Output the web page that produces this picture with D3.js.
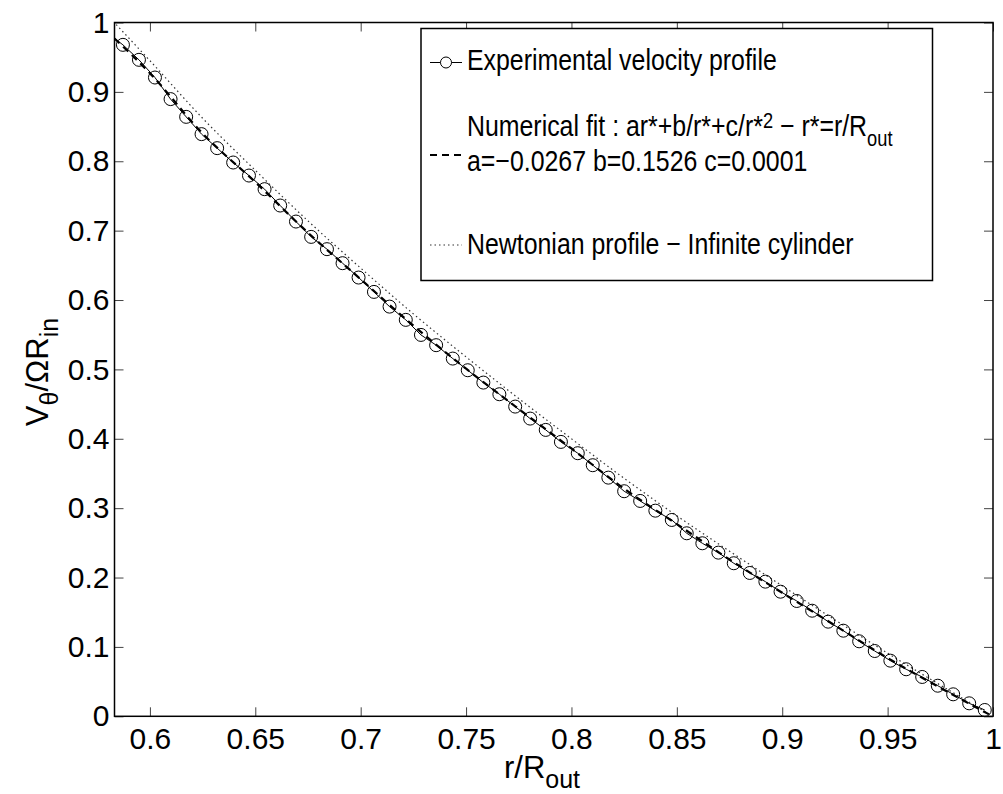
<!DOCTYPE html>
<html>
<head>
<meta charset="utf-8">
<script src="https://cdn.jsdelivr.net/npm/d3@7"></script>
<style>
  html, body { margin: 0; padding: 0; background: #fff; }
  svg { display: block; }
  text { font-family: "Liberation Sans", Arial, Helvetica, sans-serif; fill: #000; }
</style>
</head>
<body>
<script>
// ---------- data ----------
const expR = [0.5872,0.5948,0.6024,0.6098,0.6172,0.6245,0.6319,0.6395,0.6470,0.6544,
              0.6618,0.6693,0.6765,0.6840,0.6914,0.6990,0.7063,0.7137,0.7214,0.7286,
              0.7358,0.7437,0.7508,0.7582,0.7658,0.7733,0.7804,0.7878,0.7950,0.8030,
              0.8101,0.8175,0.8250,0.8326,0.8398,0.8476,0.8547,0.8621,0.8697,0.8770,
              0.8846,0.8920,0.8992,0.9069,0.9142,0.9218,0.9290,0.9365,0.9439,0.9513,
              0.9588,0.9664,0.9738,0.9811,0.9887,0.9961];
const expV = [0.9678,0.9462,0.9207,0.8896,0.8640,0.8391,0.8189,0.7982,0.7794,0.7598,
              0.7362,0.7131,0.6910,0.6733,0.6531,0.6324,0.6117,0.5905,0.5714,0.5497,
              0.5349,0.5156,0.4988,0.4810,0.4642,0.4464,0.4291,0.4128,0.3955,0.3792,
              0.3619,0.3440,0.3244,0.3104,0.2964,0.2830,0.2638,0.2494,0.2359,0.2206,
              0.2066,0.1941,0.1796,0.1662,0.1522,0.1364,0.1234,0.1081,0.0941,0.0802,
              0.0678,0.0567,0.0441,0.0317,0.0187,0.0091];

const fitR = [0.5832,0.600,0.625,0.650,0.675,0.700,0.725,0.750,0.775,0.800,0.825,0.850,0.875,0.900,0.925,0.950,0.975,0.998];
const fitV = [0.977,0.927,0.840,0.770,0.697,0.630,0.563,0.501,0.443,0.386,0.328,0.277,0.226,0.178,0.131,0.084,0.041,0.003];

const newtR = [0.5840,0.600,0.625,0.650,0.675,0.700,0.725,0.750,0.775,0.800,0.825,0.850,0.875,0.900,0.925,0.950,0.975,1.000];
const newtV = [0.997,0.945,0.862,0.787,0.714,0.646,0.580,0.518,0.458,0.400,0.343,0.289,0.238,0.188,0.139,0.091,0.045,0.000];

const xTicks = [0.6,0.65,0.7,0.75,0.8,0.85,0.9,0.95,1];
const xTickLabels = ["0.6","0.65","0.7","0.75","0.8","0.85","0.9","0.95","1"];
const yTicks = [0,0.1,0.2,0.3,0.4,0.5,0.6,0.7,0.8,0.9,1];
const yTickLabels = ["0","0.1","0.2","0.3","0.4","0.5","0.6","0.7","0.8","0.9","1"];

// ---------- layout ----------
const W = 1003, H = 794;
const L = 114.5, R = 993, T = 22.5, B = 716.3;
const FS = 30;

const svg = d3.select("body").append("svg").attr("width", W).attr("height", H);

const x = d3.scaleLinear().domain([0.5832, 1]).range([L, R]);
const y = d3.scaleLinear().domain([0, 1]).range([B, T]);

svg.append("clipPath").attr("id", "plotclip")
  .append("rect").attr("x", L).attr("y", T).attr("width", R - L).attr("height", B - T);

// axes (ticks inward, MATLAB style)
const gx = svg.append("g").attr("transform", `translate(0,${B})`)
  .call(d3.axisBottom(x).tickValues(xTicks).tickFormat((d,i) => xTickLabels[i])
        .tickSizeInner(-9).tickSizeOuter(0).tickPadding(11));
const gxt = svg.append("g").attr("transform", `translate(0,${T})`)
  .call(d3.axisTop(x).tickValues(xTicks).tickFormat("").tickSizeInner(-9).tickSizeOuter(0));
const gy = svg.append("g").attr("transform", `translate(${L},0)`)
  .call(d3.axisLeft(y).tickValues(yTicks).tickFormat((d,i) => yTickLabels[i])
        .tickSizeInner(-9).tickSizeOuter(0).tickPadding(5));
const gyr = svg.append("g").attr("transform", `translate(${R},0)`)
  .call(d3.axisRight(y).tickValues(yTicks).tickFormat("").tickSizeInner(-9).tickSizeOuter(0));

[gx, gxt, gy, gyr].forEach(g => {
  g.select(".domain").remove();
  g.selectAll(".tick line").attr("stroke", "#444").attr("stroke-width", 1);
  g.selectAll("text").attr("font-size", FS).attr("font-family", '"Liberation Sans", Arial, sans-serif');
});

// plot box
svg.append("rect").attr("x", L).attr("y", T).attr("width", R - L).attr("height", B - T)
  .attr("fill", "none").attr("stroke", "#000").attr("stroke-width", 1.5);

const plot = svg.append("g").attr("clip-path", "url(#plotclip)");

const line = d3.line().x(d => x(d[0])).y(d => y(d[1]));
const smooth = d3.line().x(d => x(d[0])).y(d => y(d[1])).curve(d3.curveMonotoneX);

// Newtonian (dotted)
plot.append("path").datum(newtR.map((r,i) => [r, newtV[i]]))
  .attr("d", smooth).attr("fill", "none").attr("stroke", "#333")
  .attr("stroke-width", 1.2).attr("stroke-dasharray", "1.5,3");

// numerical fit (dashed)
plot.append("path").datum(fitR.map((r,i) => [r, fitV[i]]))
  .attr("d", smooth).attr("fill", "none").attr("stroke", "#000")
  .attr("stroke-width", 2.2).attr("stroke-dasharray", "7,5");

// experimental (solid line with circles)
const expData = expR.map((r,i) => [r, expV[i]]);
plot.append("path").datum([[0.5832, 0.977]].concat(expData))
  .attr("d", line).attr("fill", "none").attr("stroke", "#000").attr("stroke-width", 1);
plot.selectAll("circle.m").data(expData).enter().append("circle")
  .attr("class", "m").attr("cx", d => x(d[0])).attr("cy", d => y(d[1])).attr("r", 6.5)
  .attr("fill", "none").attr("stroke", "#000").attr("stroke-width", 1);

// axis labels
const xl = svg.append("text").attr("x", 542).attr("y", 778).attr("text-anchor", "middle")
  .attr("font-size", 31);
xl.append("tspan").text("r/R");
xl.append("tspan").attr("dy", 10).attr("font-size", 25).text("out");

const yl = svg.append("text").attr("transform", "translate(48,372) rotate(-90)")
  .attr("text-anchor", "middle").attr("font-size", 31);
yl.append("tspan").text("V");
yl.append("tspan").attr("dy", 10).attr("font-size", 25).text("θ");
yl.append("tspan").attr("dy", -10).text("/ΩR");
yl.append("tspan").attr("dy", 10).attr("font-size", 25).text("in");

// legend
const lg = svg.append("g");
lg.append("rect").attr("x", 421).attr("y", 28.5).attr("width", 511.5).attr("height", 252)
  .attr("fill", "#fff").attr("stroke", "#000").attr("stroke-width", 1.5);
const sx0 = 430, sx1 = 462, tx = 467, SX = 0.83;
// entry 1
lg.append("line").attr("x1", sx0).attr("x2", sx1).attr("y1", 62.5).attr("y2", 62.5)
  .attr("stroke", "#000").attr("stroke-width", 1);
lg.append("circle").attr("cx", (sx0 + sx1) / 2).attr("cy", 62.5).attr("r", 5.5)
  .attr("fill", "#fff").attr("stroke", "#000").attr("stroke-width", 1);
const lt = lg.append("g").attr("transform", `translate(${tx},0) scale(${SX},1)`);
lt.append("text").attr("x", 0).attr("y", 70).attr("font-size", FS).text("Experimental velocity profile");
// entry 2
lg.append("line").attr("x1", sx0).attr("x2", sx1).attr("y1", 155).attr("y2", 155)
  .attr("stroke", "#000").attr("stroke-width", 2.2).attr("stroke-dasharray", "7,5");
const t2 = lt.append("text").attr("x", 0).attr("y", 136.5).attr("font-size", FS);
t2.append("tspan").text("Numerical fit : ar*+b/r*+c/r*");
t2.append("tspan").attr("dy", -8).attr("font-size", 22).text("2");
t2.append("tspan").attr("dy", 8).text(" − r*=r/R");
t2.append("tspan").attr("dy", 10).attr("font-size", 22).text("out");
lt.append("text").attr("x", 0).attr("y", 171.5).attr("font-size", FS).text("a=−0.0267 b=0.1526 c=0.0001");
// entry 3
lg.append("line").attr("x1", sx0).attr("x2", sx1).attr("y1", 245).attr("y2", 245)
  .attr("stroke", "#333").attr("stroke-width", 1.2).attr("stroke-dasharray", "1.5,3");
lt.append("text").attr("x", 0).attr("y", 254).attr("font-size", FS).text("Newtonian profile − Infinite cylinder");
</script>
</body>
</html>
